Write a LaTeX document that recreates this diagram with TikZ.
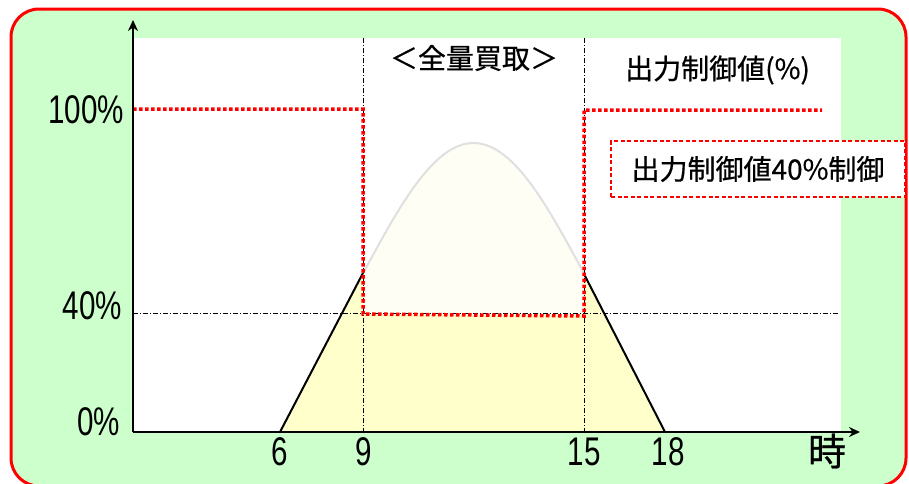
\documentclass[tikz,border=0pt]{standalone}
\usepackage{fontspec}
\setmainfont{Liberation Sans}
\newfontfamily\jpfont[FakeBold=0.6]{Noto Sans CJK JP}
\usetikzlibrary{arrows.meta}
\definecolor{bggreen}{HTML}{CCFFCC}
\definecolor{areayellow}{HTML}{FFFFCC}
\definecolor{lightfill}{HTML}{FEFEF4}
\definecolor{curvegray}{HTML}{E0E0E0}
\begin{document}
\begin{tikzpicture}[x=1pt,y=-1pt,
  axisline/.style={line width=2.6pt, -{Stealth[length=11pt,width=10pt]}},
  reddots/.style={red, line width=3.5pt, dash pattern=on 3.5pt off 2.5pt},
  guide/.style={black, line width=0.8pt, dash pattern=on 5pt off 2pt on 1pt off 2pt},
  numlbl/.style={inner sep=0pt, font=\fontsize{40}{40}\selectfont},
  jplbl/.style={inner sep=0pt, font=\jpfont\fontsize{28}{28}\selectfont},
  ctrlbox/.style={draw=red, line width=1.4pt, dash pattern=on 4pt off 2.5pt, fill=white,
    minimum width=294pt, minimum height=56pt, inner sep=0pt, font=\jpfont\fontsize{28}{28}\selectfont}
]
\useasboundingbox (0,0) rectangle (909,483);
% outer frame
\draw[red, line width=3pt, fill=bggreen, rounded corners=28pt] (11,9) rectangle (906,486);
% white plot area
\fill[white] (133,38) rectangle (841,432);

% key coordinates
\coordinate (O) at (133,432);
\coordinate (ytop) at (133,20);
\coordinate (xend) at (860,432);
\coordinate (p6) at (280,432);
\coordinate (p9) at (363,273);
\coordinate (p15) at (584,274);
\coordinate (p18) at (665,432);
\coordinate (r0) at (133,109);
\coordinate (r1) at (363,109);
\coordinate (r2) at (363,314);
\coordinate (r3) at (584,316);
\coordinate (r4) at (584,110);
\coordinate (r5) at (822,110);
\coordinate (g9t) at (363,38);
\coordinate (g9b) at (363,432);
\coordinate (g15t) at (584,38);
\coordinate (g15b) at (584,432);
\coordinate (g40l) at (133,313);
\coordinate (g40r) at (838,313);

% yellow area
\fill[areayellow] (p6) -- (p9) -- (363,314) -- (584,315) -- (p15) -- (p18) -- cycle;
% light area under full curve
\fill[lightfill] (363,314) -- plot[domain=0:1, samples=80, variable=\t] ({363+221*\t},{273.5-130.5*sin(180*\t)}) -- (584,315) -- cycle;
% gray full curve
\draw[curvegray, line width=2pt] plot[domain=0:1, samples=80, variable=\t] ({363+221*\t},{273.5-130.5*sin(180*\t)});

% guides
\draw[guide] (g9t) -- (g9b);
\draw[guide] (g15t) -- (g15b);
\draw[guide] (g40l) -- (g40r);

% black curve parts
\draw[black, line width=2pt] (p6) -- (p9);
\draw[black, line width=2pt] (p15) -- (p18);

% red control line
\draw[reddots] (r0) -- (r1) -- (r2) -- (r3) -- (r4) -- (r5);

% axes
\draw[axisline] (O) -- (ytop);
\draw[axisline] (O) -- (xend);

% y labels
\node[numlbl, anchor=east] (l100) at (124,110) {\scalebox{0.74}[1]{100\%}};
\node[numlbl, anchor=east] (l40) at (122,306) {\scalebox{0.74}[1]{40\%}};
\node[numlbl, anchor=east] (l0) at (120,422) {\scalebox{0.74}[1]{0\%}};
% x labels
\node[numlbl] (x6) at (280,452) {\scalebox{0.74}[1]{6}};
\node[numlbl] (x9) at (364,452) {\scalebox{0.74}[1]{9}};
\node[numlbl] (x15) at (584,452) {\scalebox{0.74}[1]{15}};
\node[numlbl] (x18) at (668,452) {\scalebox{0.74}[1]{18}};
\node[inner sep=0pt, font=\jpfont\fontsize{38}{38}\selectfont] (xunit) at (827,451) {時};

% titles
\node[jplbl] (title) at (474,58) {＜全量買取＞};
\node[jplbl, anchor=west] (legend) at (625,70) {出力制御値(\%)};
\node[ctrlbox] (ctrl) at (758,169) {出力制御値40\%制御};
\end{tikzpicture}
\end{document}
